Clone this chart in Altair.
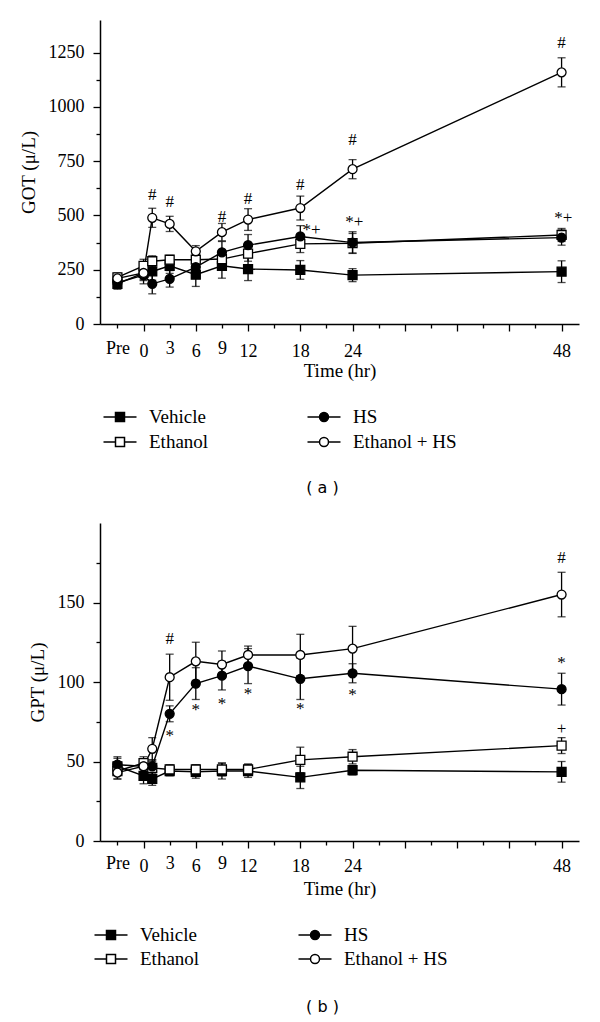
import altair as alt
import pandas as pd

SERIF = "Liberation Serif"
SANS = "DejaVu Sans"

series_order = ["Vehicle", "Ethanol", "HS", "Ethanol + HS"]
series_shapes = ["square", "square", "circle", "circle"]
series_fills = ["black", "white", "black", "white"]
time_hr = [-3, 0, 1, 3, 6, 9, 12, 18, 24, 48]

x_tick_values = [-3, 0, 3, 6, 9, 12, 15, 18, 21, 24, 27, 30, 33, 36, 39, 42, 45, 48]
x_labeled = [0, 3, 6, 9, 12, 18, 24, 48]

# ---------------- panel (a): GOT ----------------
got_vehicle = [185, 235, 242, 268, 227, 268, 253, 249, 225, 241]
got_vehicle_se = [25, 35, 40, 35, 54, 57, 53, 43, 30, 50]
got_ethanol = [215, 268, 289, 296, 296, 299, 324, 369, 372, 410]
got_ethanol_se = [20, 30, 25, 20, 25, 40, 35, 40, 45, 30]
got_hs = [190, 225, 185, 208, 262, 330, 363, 403, 375, 398]
got_hs_se = [25, 40, 46, 38, 35, 50, 49, 50, 50, 35]
got_eth_hs = [210, 235, 489, 461, 335, 423, 481, 534, 713, 1159]
got_eth_hs_se = [20, 30, 44, 35, 26, 40, 50, 55, 44, 67]

got_y_ticks = [0, 125, 250, 375, 500, 625, 750, 875, 1000, 1125, 1250]
got_y_domain = [0, 1400]

got_ann_time = [1, 3, 9, 12, 18, 24, 48, 19.3, 24.2, 48.2]
got_ann_value = [595, 561, 492, 577, 641, 849, 1295, 434, 470, 489]
got_ann_text = ["#", "#", "#", "#", "#", "#", "#", "*+", "*+", "*+"]

# ---------------- panel (b): GPT ----------------
gpt_vehicle = [47, 41, 39, 44, 43.5, 44, 44, 40, 44.5, 43.5]
gpt_vehicle_se = [5, 5, 4, 3, 4, 5, 4, 7, 3, 6.5]
gpt_ethanol = [44, 49, 46, 45, 45, 45, 45, 51, 53, 60]
gpt_ethanol_se = [5, 4, 4, 3, 3, 4, 3.5, 8, 4.5, 5]
gpt_hs = [48, 47, 47, 80, 99, 104, 110, 102, 105.5, 95.5]
gpt_hs_se = [5, 4, 4, 5, 10, 9, 11, 13, 6, 10]
gpt_eth_hs = [43, 47, 58, 103, 113, 111, 117, 117, 121, 155]
gpt_eth_hs_se = [4, 4, 7, 14.5, 12, 8.5, 5.6, 13, 14, 14]

gpt_y_ticks = [0, 25, 50, 75, 100, 125, 150, 175]
gpt_y_domain = [0, 200]

gpt_ann_time = [3, 48, 3, 6, 9, 12, 18, 24, 48, 48]
gpt_ann_value = [127, 178, 66, 82.5, 86, 92.5, 83, 92, 111.7, 70.6]
gpt_ann_text = ["#", "#", "*", "*", "*", "*", "*", "*", "*", "+"]

# legend symbols: line with a square / circle in the middle
SQ_PATH = "M-1.65,0H-0.45M0.45,0H1.65M-0.45,-0.45H0.45V0.45H-0.45Z"
CI_PATH = "M-1.65,0H-0.45M0.45,0H1.65M-0.45,0A0.45,0.45 0 1,0 0.45,0A0.45,0.45 0 1,0 -0.45,0Z"
legend_paths = [SQ_PATH, SQ_PATH, CI_PATH, CI_PATH]


def make_panel(means, ses, ann_t, ann_v, ann_s, y_title, y_ticks, y_step,
               y_domain, width, height, caption, leg_x, leg_y, leg_rowpad,
               cap_offset, cap_dx, x_label_pad, x_title_pad):
    rows = []
    for s in series_order:
        for t, m, e in zip(time_hr, means[s], ses[s]):
            rows.append({"series": s, "time": t, "mean": m, "lo": m - e, "hi": m + e})
    df = pd.DataFrame(rows)
    ann = pd.DataFrame({"time": ann_t, "value": ann_v, "txt": ann_s})

    xs = alt.Scale(domain=[-5, 50], nice=False, zero=False)
    ys = alt.Scale(domain=y_domain, nice=False, zero=False)
    x_axis = alt.Axis(
        values=x_tick_values,
        labelExpr="datum.value == -3 ? 'Pre' : (indexof(" + str(x_labeled) + ", datum.value) >= 0 ? '' + datum.value : '')",
        tickSize={"condition": {"test": "datum.value % 6 === 0", "value": 7}, "value": 4},
        labelPadding=x_label_pad, labelOverlap=False, labelFlush=False, grid=False,
        labelFont=SERIF, labelFontSize=18, labelColor="black",
        titleFont=SERIF, titleFontSize=19, titleFontWeight="normal", titleColor="black",
        titlePadding=x_title_pad, domainColor="black", domainWidth=1.5, tickColor="black", tickWidth=1.3,
    )
    y_axis = alt.Axis(
        values=y_ticks,
        labelExpr="datum.value % " + str(y_step) + " === 0 ? '' + datum.value : ''",
        tickSize={"condition": {"test": "datum.value % " + str(y_step) + " === 0", "value": 7}, "value": 4},
        labelPadding=9, labelOverlap=False, grid=False,
        labelFont=SERIF, labelFontSize=18, labelColor="black",
        titleFont=SERIF, titleFontSize=19, titleFontWeight="normal", titleColor="black",
        titlePadding=10, domainColor="black", domainWidth=1.5, tickColor="black", tickWidth=1.3,
    )
    X = alt.X("time:Q", scale=xs, axis=x_axis, title="Time (hr)")
    Ym = alt.Y("mean:Q", scale=ys, axis=y_axis, title=y_title)

    base = alt.Chart(df)
    lines = base.mark_line(color="black", strokeWidth=1.4).encode(X, Ym, detail="series:N")
    rules = base.mark_rule(color="black", strokeWidth=1.3).encode(
        X, alt.Y("lo:Q", scale=ys, axis=y_axis, title=y_title), y2="hi:Q")
    caps = base.transform_fold(["lo", "hi"], as_=["end", "yv"]).mark_tick(
        orient="horizontal", size=8, thickness=1.3, color="black").encode(
        X, alt.Y("yv:Q", scale=ys, axis=y_axis, title=y_title))
    points = base.mark_point(filled=True, size=80, stroke="black", strokeWidth=1.3, opacity=1).encode(
        X, Ym,
        shape=alt.Shape("series:N", scale=alt.Scale(domain=series_order, range=series_shapes), legend=None),
        fill=alt.Fill("series:N", scale=alt.Scale(domain=series_order, range=series_fills), legend=None),
    )
    leg = alt.Legend(
        title=None, orient="none", legendX=leg_x, legendY=leg_y, columns=2,
        columnPadding=95, rowPadding=leg_rowpad, padding=0, labelOffset=18,
        labelFont=SERIF, labelFontSize=19, labelColor="black", labelLimit=300,
        symbolSize=400, symbolStrokeWidth=1.5,
    )
    legend_layer = base.transform_filter("false").transform_calculate(key="datum.series").mark_point(
        filled=True, size=80, stroke="black", strokeWidth=1.5, opacity=1).encode(
        X, Ym,
        shape=alt.Shape("key:N", scale=alt.Scale(domain=series_order, range=legend_paths), legend=leg),
        fill=alt.Fill("key:N", scale=alt.Scale(domain=series_order, range=series_fills), legend=leg),
    )
    texts = alt.Chart(ann).mark_text(font=SERIF, fontSize=17, color="black", baseline="middle", align="center").encode(
        x=alt.X("time:Q", scale=xs, axis=x_axis, title="Time (hr)"),
        y=alt.Y("value:Q", scale=ys, axis=y_axis, title=y_title),
        text="txt:N",
    )
    return alt.layer(lines, rules, caps, points, legend_layer, texts).resolve_scale(
        shape="independent", fill="independent").properties(
        width=width, height=height,
        title=alt.TitleParams(caption, orient="bottom", font=SANS, fontSize=16, fontWeight="normal",
                              color="black", anchor="middle", frame="group", dx=cap_dx, offset=cap_offset),
    )


panel_a = make_panel(
    {"Vehicle": got_vehicle, "Ethanol": got_ethanol, "HS": got_hs, "Ethanol + HS": got_eth_hs},
    {"Vehicle": got_vehicle_se, "Ethanol": got_ethanol_se, "HS": got_hs_se, "Ethanol + HS": got_eth_hs_se},
    got_ann_time, got_ann_value, got_ann_text,
    "GOT (μ/L)", got_y_ticks, 250, got_y_domain, 479, 304, "( a )",
    9, 386, 4, 28, -17, 11, 1,
)
panel_b = make_panel(
    {"Vehicle": gpt_vehicle, "Ethanol": gpt_ethanol, "HS": gpt_hs, "Ethanol + HS": gpt_eth_hs},
    {"Vehicle": gpt_vehicle_se, "Ethanol": gpt_ethanol_se, "HS": gpt_hs_se, "Ethanol + HS": gpt_eth_hs_se},
    gpt_ann_time, gpt_ann_value, gpt_ann_text,
    "GPT (μ/L)", gpt_y_ticks, 50, gpt_y_domain, 479, 318, "( b )",
    0, 401, 3, 30, -17, 9, 4,
)

chart = alt.concat(panel_a, panel_b, columns=1, spacing=27, align="none").resolve_scale(
    shape="independent", fill="independent").properties(
    padding={"left": 11, "top": 12, "right": 5, "bottom": 5},
    background="white",
).configure_view(stroke=None)

chart.save("out.html", embed_options={"renderer": "svg", "actions": False})
